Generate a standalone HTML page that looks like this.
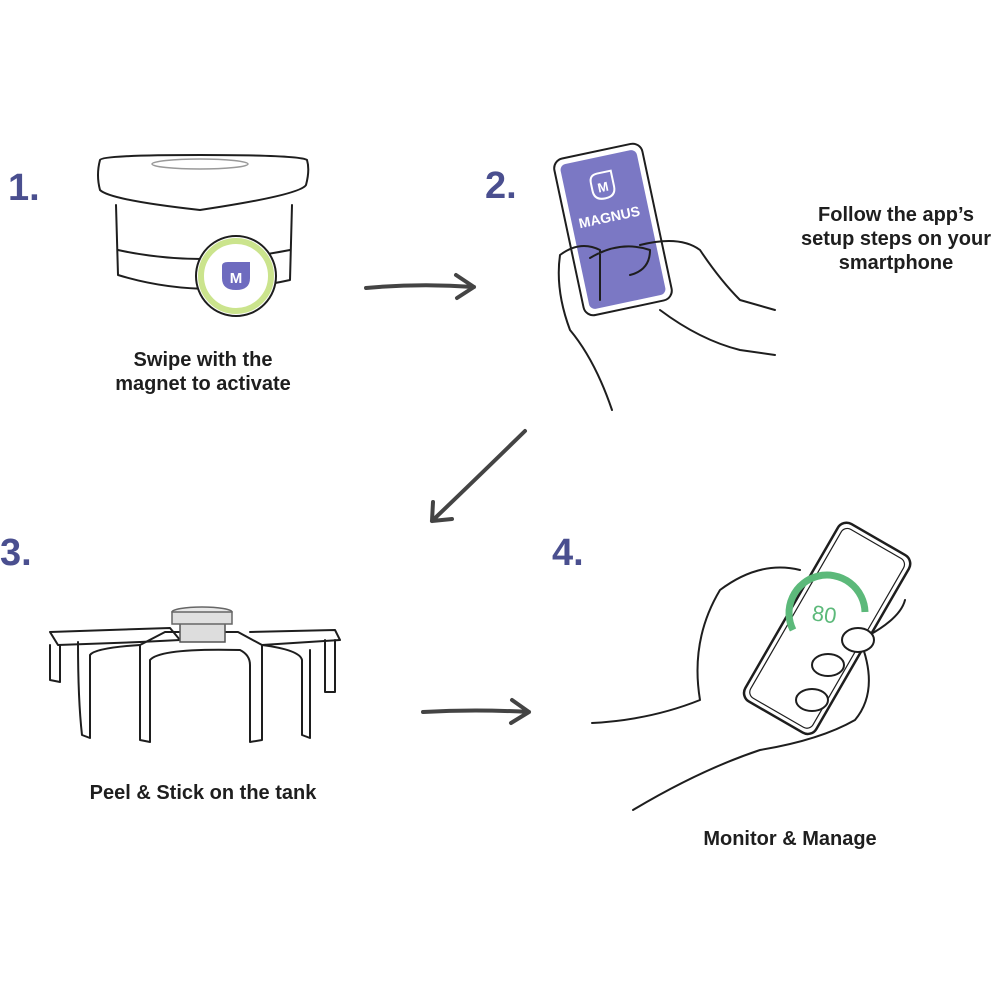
<!DOCTYPE html>
<html><head><meta charset="utf-8"><style>
html,body{margin:0;padding:0;background:#fff;width:1000px;height:1000px;overflow:hidden}
svg{display:block}
text{font-family:"Liberation Sans",sans-serif}
.n{font-weight:bold;font-size:38px;fill:#4a4f8f}
.l{font-weight:bold;font-size:20px;fill:#1e1e1e}
.s{fill:none;stroke:#1e1e1e;stroke-width:2;stroke-linejoin:round;stroke-linecap:round}
</style></head><body>
<svg width="1000" height="1000" viewBox="0 0 1000 1000">
<rect width="1000" height="1000" fill="#fff"/>
<text class="n" x="8" y="200">1.</text>
<text class="n" x="485" y="198">2.</text>
<text class="n" x="0" y="565">3.</text>
<text class="n" x="552" y="565">4.</text>

<!-- step1 device -->
<path class="s" d="M116,205 L118,275 Q200,300 290,280 L292,205"/>
<path class="s" d="M118,250 Q200,268 290,250"/>
<path class="s" d="M100,160 Q102,155 200,155 Q300,155 307,160 Q310,170 306,185 Q300,195 200,210 Q110,200 100,190 Q96,175 100,160 Z" fill="#fff"/>
<ellipse cx="200" cy="164" rx="48" ry="5" fill="none" stroke="#999" stroke-width="1.5"/>
<circle cx="236" cy="276" r="40" fill="#fff" stroke="#1e1e1e" stroke-width="2"/>
<circle cx="236" cy="276" r="35" fill="none" stroke="#cbe48d" stroke-width="6"/>
<path d="M222,266 Q222,262 228,262 L250,262 L250,278 Q250,290 236,290 Q222,290 222,278 Z" fill="#6e6bbf"/>
<text x="236" y="283" text-anchor="middle" font-weight="bold" font-size="15" fill="#fff">M</text>
<text class="l" x="203" y="366" text-anchor="middle">Swipe with the</text>
<text class="l" x="203" y="390" text-anchor="middle">magnet to activate</text>

<!-- arrows -->
<g stroke="#444" stroke-width="4" fill="none" stroke-linecap="round" stroke-linejoin="round">
<path d="M366,288 Q420,283 474,287 M456,275 L474,287 L457,298"/>
<path d="M525,431 Q480,475 432,521 M433,502 L432,521 L452,519"/>
<path d="M423,712 Q475,709 529,712 M512,700 L529,712 L511,723"/>
</g>

<!-- step2 phone -->
<g transform="rotate(-12 610 225)">
<rect x="567" y="150" width="90" height="160" rx="10" fill="#fff" stroke="#1e1e1e" stroke-width="2"/>
<rect x="573" y="156" width="78" height="148" rx="6" fill="#7b78c4"/>
<path d="M600,180 Q600,172 608,172 L622,172 L622,188 Q622,198 611,198 Q600,198 600,188 Z" fill="none" stroke="#fff" stroke-width="2"/>
<text x="611" y="191" text-anchor="middle" font-weight="bold" font-size="13" fill="#fff">M</text>
<text x="611" y="222" text-anchor="middle" font-weight="bold" font-size="14" fill="#fff">MAGNUS</text>
</g>
<path class="s" d="M612,410 Q595,360 570,330 Q555,290 560,255 Q580,240 600,250 L600,300 M590,258 Q620,240 650,250 Q650,270 630,275 M640,245 Q680,235 700,250 Q720,280 740,300 L775,310 M660,310 Q700,340 740,350 L775,355" fill="#fff"/>
<text class="l" x="896" y="221" text-anchor="middle">Follow the app’s</text>
<text class="l" x="896" y="245" text-anchor="middle">setup steps on your</text>
<text class="l" x="896" y="269" text-anchor="middle">smartphone</text>

<!-- step3 tank -->
<g class="s" stroke-width="1.8">
<path d="M50,632 L170,628 L180,640 L140,642 L58,645 Z"/>
<path d="M50,645 L50,680 L60,682 L60,645"/>
<path d="M78,642 Q78,700 82,735 L90,738 L90,655 Q95,648 140,645"/>
<path d="M140,645 L140,740 L150,742 L150,660 Q160,648 240,650 Q250,655 250,665 L250,742 L262,740 L262,645 L238,632 L165,632 Z"/>
<path d="M250,632 L335,630 L340,640 L262,645"/>
<path d="M262,645 Q300,650 302,660 L302,735 L310,738 L310,650 M325,640 L325,692 L335,692 L335,640"/>
</g>
<rect x="180" y="622" width="45" height="20" fill="#ddd" stroke="#555" stroke-width="1.5"/>
<ellipse cx="202" cy="612" rx="30" ry="5" fill="#e8e8e8" stroke="#666" stroke-width="1.5"/>
<rect x="172" y="612" width="60" height="12" fill="#e0e0e0" stroke="#666" stroke-width="1.5"/>
<text class="l" x="203" y="799" text-anchor="middle">Peel &amp; Stick on the tank</text>

<!-- step4 phone -->
<path class="s" d="M592,723 Q650,720 700,700 Q690,640 720,590 Q760,560 800,570 M633,810 Q700,770 760,750 Q820,740 855,720 Q880,690 860,640 Q900,620 905,600"/>
<g transform="rotate(30 825 630)">
<rect x="785" y="525" width="82" height="205" rx="10" fill="#fff" stroke="#1e1e1e" stroke-width="2.5"/>
<rect x="790" y="530" width="72" height="195" rx="7" fill="none" stroke="#1e1e1e" stroke-width="1.2"/>
</g>
<path d="M793,630 A38,38 0 1 1 865,612" fill="none" stroke="#5cb97a" stroke-width="7"/>
<text x="812" y="622" font-size="22" fill="#5cb97a" transform="rotate(8 825 615)">80</text>
<g fill="#fff" stroke="#1e1e1e" stroke-width="2">
<ellipse cx="858" cy="640" rx="16" ry="12"/>
<ellipse cx="828" cy="665" rx="16" ry="11"/>
<ellipse cx="812" cy="700" rx="16" ry="11"/>
</g>
<text class="l" x="790" y="845" text-anchor="middle">Monitor &amp; Manage</text>
</svg>
</body></html>
